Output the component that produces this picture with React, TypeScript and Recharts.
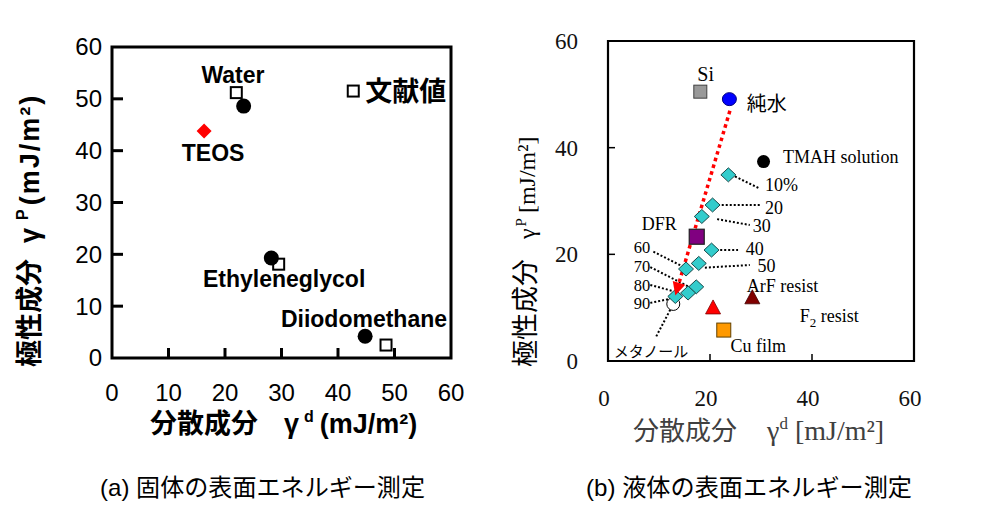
import React from 'react';
import { ScatterChart, Scatter, XAxis, YAxis, ReferenceArea, ReferenceLine } from 'recharts';

const SANS = "'Liberation Sans', 'Noto Sans CJK JP', sans-serif";
const SERIF = "'Liberation Serif', 'Noto Sans CJK JP', serif";
const CJK = "'Noto Sans CJK JP', sans-serif";

// ---------- (a) 固体の表面エネルギー測定 ----------
const A_TICKS = [0, 10, 20, 30, 40, 50, 60];
const A_MEASURED = [
  { x: 23.3, y: 48.6 },
  { x: 28.2, y: 19.3 },
  { x: 44.8, y: 4.2 },
];
const A_LITERATURE = [
  { x: 22.0, y: 51.2 },
  { x: 29.5, y: 18.1 },
  { x: 48.5, y: 2.5 },
];
const A_TEOS = [{ x: 16.3, y: 43.8 }];
const A_LABELS = [
  { x: 21.4, y: 54.6, text: 'Water', anchor: 'middle' },
  { x: 17.9, y: 39.6, text: 'TEOS', anchor: 'middle' },
  { x: 16.1, y: 15.3, text: 'Ethyleneglycol', anchor: 'start' },
  { x: 29.9, y: 7.5, text: 'Diiodomethane', anchor: 'start' },
];
const A_LEGEND = [{ x: 42.7, y: 51.5, text: '文献値' }];

// ---------- (b) 液体の表面エネルギー測定 ----------
const B_TICKS = [0, 20, 40, 60];
const B_SI = [{ x: 18.1, y: 50.5 }];
const B_WATER = [{ x: 23.8, y: 49.1 }];
const B_TMAH = [{ x: 30.5, y: 37.4 }];
const B_MIX = [
  { x: 23.6, y: 34.9 },
  { x: 20.5, y: 29.25 },
  { x: 18.4, y: 27.1 },
  { x: 20.3, y: 20.8 },
  { x: 17.8, y: 18.3 },
  { x: 15.3, y: 17.25 },
  { x: 17.3, y: 13.9 },
  { x: 15.7, y: 12.75 },
  { x: 13.2, y: 12.1 },
];
const B_METHANOL = [{ x: 12.8, y: 10.7 }];
const B_DFR = [{ x: 17.4, y: 23.3 }];
const B_RED_TRI = [{ x: 20.6, y: 9.7 }];
const B_DARK_TRI = [{ x: 28.3, y: 11.6 }];
const B_CU = [{ x: 22.7, y: 5.8 }];
const ARROW_FROM = { x: 23.9, y: 46.9 };
const ARROW_TO = { x: 13.2, y: 12.3 };
const B_LABELS = [
  { x: 19.15, y: 53.9, text: 'Si', anchor: 'middle', kind: 'si' },
  { x: 27.2, y: 48.2, text: '純水', anchor: 'start', kind: 'cjk' },
  { x: 34.3, y: 38.3, text: 'TMAH solution', anchor: 'start', kind: 'lab' },
  { x: 30.8, y: 33.0, text: '10%', anchor: 'start', kind: 'lab' },
  { x: 30.8, y: 28.8, text: '20', anchor: 'start', kind: 'lab' },
  { x: 28.4, y: 25.3, text: '30', anchor: 'start', kind: 'lab' },
  { x: 27.0, y: 21.1, text: '40', anchor: 'start', kind: 'lab' },
  { x: 29.3, y: 17.9, text: '50', anchor: 'start', kind: 'lab' },
  { x: 8.3, y: 21.25, text: '60', anchor: 'end', kind: 'small' },
  { x: 8.3, y: 17.75, text: '70', anchor: 'end', kind: 'small' },
  { x: 8.3, y: 14.3, text: '80', anchor: 'end', kind: 'small' },
  { x: 8.3, y: 10.8, text: '90', anchor: 'end', kind: 'small' },
  { x: 6.64, y: 25.8, text: 'DFR', anchor: 'start', kind: 'lab' },
  { x: 27.2, y: 14.1, text: 'ArF resist', anchor: 'start', kind: 'lab' },
  { x: 37.6, y: 8.5, text: 'F', sub: '2', rest: ' resist', anchor: 'start', kind: 'lab' },
  { x: 24.0, y: 2.8, text: 'Cu film', anchor: 'start', kind: 'lab' },
  { x: 8.43, y: 1.75, text: 'メタノール', anchor: 'middle', kind: 'kana' },
];
const B_LEADERS = [
  [{ x: 24.9, y: 34.6 }, { x: 29.6, y: 32.4 }],
  [{ x: 22.3, y: 29.25 }, { x: 29.8, y: 29.25 }],
  [{ x: 21.4, y: 26.6 }, { x: 27.8, y: 25.5 }],
  [{ x: 22.0, y: 20.8 }, { x: 25.5, y: 20.8 }],
  [{ x: 19.0, y: 17.5 }, { x: 27.8, y: 18.0 }],
  [{ x: 8.9, y: 20.5 }, { x: 14.9, y: 17.6 }],
  [{ x: 8.3, y: 17.6 }, { x: 15.9, y: 13.9 }],
  [{ x: 8.3, y: 14.25 }, { x: 12.8, y: 13.1 }],
  [{ x: 8.3, y: 10.9 }, { x: 12.4, y: 11.7 }],
  [{ x: 12.2, y: 9.6 }, { x: 9.4, y: 4.5 }],
];

// ---------- layout ----------
const A = { left: 0, width: 470, height: 450, plotLeft: 112, plotTop: 47, plotW: 339, plotH: 311 };
const B = { left: 500, width: 496, height: 450, plotLeft: 108, plotTop: 41, plotW: 306, plotH: 320 };
const YAXIS_W = 60;
const XAXIS_H = 40;
const TM = 10;

const marginOf = (c: any) => ({
  top: c.plotTop,
  left: c.plotLeft - YAXIS_W,
  right: c.width - c.plotLeft - c.plotW,
  bottom: c.height - c.plotTop - c.plotH - XAXIS_H,
});

const makeXTick = (cfg: any) => (props: any) => {
  const { x, y, payload } = props;
  const axisY = y - TM;
  const v = payload.value;
  return (
    <g>
      {v > 0 && v < 60 && (
        <line x1={x} x2={x} y1={axisY} y2={axisY - cfg.len} stroke="#000" strokeWidth={cfg.sw} />
      )}
      <text x={x + cfg.dx} y={axisY + cfg.off} dy="0.35em" textAnchor="middle" fontSize={cfg.fs} fontFamily={cfg.ff} fill={cfg.fill}>
        {v}
      </text>
    </g>
  );
};

const makeYTick = (cfg: any) => (props: any) => {
  const { x, y, payload } = props;
  const axisX = x + TM;
  const v = payload.value;
  return (
    <g>
      {v > 0 && v < 60 && (
        <line x1={axisX} x2={axisX + cfg.len} y1={y} y2={y} stroke="#000" strokeWidth={cfg.sw} />
      )}
      <text x={axisX - cfg.off} y={y + cfg.dy} dy="0.35em" textAnchor="end" fontSize={cfg.fs} fontFamily={cfg.ff} fill={cfg.fill}>
        {v}
      </text>
    </g>
  );
};

// ---------- shapes ----------
const dot = (r: number, fill: string, stroke = 'none', sw = 0) => (p: any) => (
  <circle cx={p.cx} cy={p.cy} r={r} fill={fill} stroke={stroke} strokeWidth={sw} />
);
const ellipse = (rx: number, ry: number, fill: string, stroke = 'none', sw = 0) => (p: any) => (
  <ellipse cx={p.cx} cy={p.cy} rx={rx} ry={ry} fill={fill} stroke={stroke} strokeWidth={sw} />
);
const square = (s: number, fill: string, stroke: string, sw: number) => (p: any) => (
  <rect x={p.cx - s / 2} y={p.cy - s / 2} width={s} height={s} fill={fill} stroke={stroke} strokeWidth={sw} />
);
const diamond = (hw: number, hh: number, fill: string, stroke: string, sw: number) => (p: any) => (
  <polygon
    points={`${p.cx},${p.cy - hh} ${p.cx + hw},${p.cy} ${p.cx},${p.cy + hh} ${p.cx - hw},${p.cy}`}
    fill={fill}
    stroke={stroke}
    strokeWidth={sw}
  />
);
const triangle = (w: number, h: number, fill: string, stroke: string, sw: number) => (p: any) => (
  <polygon
    points={`${p.cx},${p.cy - (2 * h) / 3} ${p.cx + w / 2},${p.cy + h / 3} ${p.cx - w / 2},${p.cy + h / 3}`}
    fill={fill}
    stroke={stroke}
    strokeWidth={sw}
  />
);
const arrowHead = (p: any) => {
  const dx = (ARROW_TO.x - ARROW_FROM.x) * (B.plotW / 60);
  const dy = -(ARROW_TO.y - ARROW_FROM.y) * (B.plotH / 60);
  const len = Math.hypot(dx, dy);
  const ux = dx / len;
  const uy = dy / len;
  const L = 13;
  const hw = 6.5;
  const bx = p.cx - ux * L;
  const by = p.cy - uy * L;
  return (
    <polygon
      points={`${p.cx},${p.cy} ${bx - uy * hw},${by + ux * hw} ${bx + uy * hw},${by - ux * hw}`}
      fill="#ff0000"
    />
  );
};

const aLabel = (p: any) => (
  <text x={p.cx} y={p.cy} dy="0.35em" textAnchor={p.payload.anchor} fontSize={23} fontWeight="bold" fontFamily={SANS} fill="#000">
    {p.payload.text}
  </text>
);
const aLegend = (p: any) => (
  <g>
    <rect x={p.cx - 5.5} y={p.cy - 5.5} width={11} height={11} fill="#fff" stroke="#000" strokeWidth={2} />
    <text x={p.cx + 12} y={p.cy} dy="0.35em" fontSize={27} fontWeight="bold" fontFamily={SANS} fill="#000">
      {p.payload.text}
    </text>
  </g>
);
const bLabel = (p: any) => {
  const d = p.payload;
  if (d.kind === 'cjk')
    return (
      <text x={p.cx} y={p.cy} dy="0.35em" textAnchor={d.anchor} fontSize={20} fontFamily={CJK} fill="#000">
        {d.text}
      </text>
    );
  if (d.kind === 'kana')
    return (
      <text x={p.cx} y={p.cy} dy="0.35em" textAnchor={d.anchor} fontSize={15} fontFamily={CJK} fill="#000">
        {d.text}
      </text>
    );
  const fs = d.kind === 'si' ? 20 : d.kind === 'small' ? 16.5 : 18;
  return (
    <text x={p.cx} y={p.cy} dy="0.35em" textAnchor={d.anchor} fontSize={fs} fontFamily={SERIF} fill="#000">
      {d.text}
      {d.sub && (
        <tspan dy={5} fontSize={13}>
          {d.sub}
        </tspan>
      )}
      {d.rest && <tspan dy={-5}>{d.rest}</tspan>}
    </text>
  );
};

const aXTick = makeXTick({ len: 10, sw: 3, dx: 0, off: 35, fs: 24, ff: SANS, fill: '#000' });
const aYTick = makeYTick({ len: 11, sw: 3, off: 10, dy: 0, fs: 24, ff: SANS, fill: '#000' });
const bXTick = makeXTick({ len: 7, sw: 1.5, dx: -4, off: 37, fs: 23, ff: SERIF, fill: '#111' });
const bYTick = makeYTick({ len: 7, sw: 1.5, off: 30, dy: 0, fs: 23, ff: SERIF, fill: '#111' });

function ChartA() {
  return (
    <ScatterChart width={A.width} height={A.height} margin={marginOf(A)}>
      <XAxis type="number" dataKey="x" domain={[0, 60]} ticks={A_TICKS} allowDataOverflow axisLine={false} tickLine={false} tickSize={0} tickMargin={TM} height={XAXIS_H} tick={aXTick} interval={0} />
      <YAxis type="number" dataKey="y" domain={[0, 60]} ticks={A_TICKS} allowDataOverflow axisLine={false} tickLine={false} tickSize={0} tickMargin={TM} width={YAXIS_W} tick={aYTick} interval={0} />
      <ReferenceArea x1={0} x2={60} y1={0} y2={60} fill="none" fillOpacity={0} stroke="#000" strokeWidth={3} strokeOpacity={1} />
      <Scatter data={A_LITERATURE} shape={square(11, '#fff', '#000', 2)} isAnimationActive={false} />
      <Scatter data={A_MEASURED} shape={dot(7.5, '#000')} isAnimationActive={false} />
      <Scatter data={A_TEOS} shape={diamond(7.5, 7.5, '#ff0000', 'none', 0)} isAnimationActive={false} />
      <Scatter data={A_LABELS} shape={aLabel} isAnimationActive={false} />
      <Scatter data={A_LEGEND} shape={aLegend} isAnimationActive={false} />
    </ScatterChart>
  );
}

function ChartB() {
  return (
    <ScatterChart width={B.width} height={B.height} margin={marginOf(B)}>
      <XAxis type="number" dataKey="x" domain={[0, 60]} ticks={B_TICKS} allowDataOverflow axisLine={false} tickLine={false} tickSize={0} tickMargin={TM} height={XAXIS_H} tick={bXTick} interval={0} />
      <YAxis type="number" dataKey="y" domain={[0, 60]} ticks={B_TICKS} allowDataOverflow axisLine={false} tickLine={false} tickSize={0} tickMargin={TM} width={YAXIS_W} tick={bYTick} interval={0} />
      <ReferenceArea x1={0} x2={60} y1={0} y2={60} fill="none" fillOpacity={0} stroke="#000" strokeWidth={2.2} strokeOpacity={1} />
      {B_LEADERS.map((seg, i) => (
        <ReferenceLine key={i} segment={seg} stroke="#000" strokeWidth={2} strokeDasharray="2 2" />
      ))}
      <Scatter data={B_SI} shape={square(13, '#999999', '#404040', 1)} isAnimationActive={false} />
      <Scatter data={B_WATER} shape={ellipse(7, 6.5, '#0000ff', '#000080', 1)} isAnimationActive={false} />
      <Scatter data={B_TMAH} shape={dot(6.5, '#000')} isAnimationActive={false} />
      <Scatter data={B_DFR} shape={square(15, '#800080', '#202020', 1.2)} isAnimationActive={false} />
      <Scatter data={B_METHANOL} shape={dot(6.5, '#fff', '#000', 1)} isAnimationActive={false} />
      <Scatter data={B_MIX} shape={diamond(7.5, 7, '#33cccc', '#1a4a4a', 1)} isAnimationActive={false} />
      <Scatter data={B_RED_TRI} shape={triangle(15, 14, '#ff0000', '#800000', 0.8)} isAnimationActive={false} />
      <Scatter data={B_DARK_TRI} shape={triangle(15, 14, '#800000', '#400000', 0.8)} isAnimationActive={false} />
      <Scatter data={B_CU} shape={square(14, '#ff9900', '#604000', 1)} isAnimationActive={false} />
      <ReferenceLine segment={[ARROW_FROM, ARROW_TO]} stroke="#ff0000" strokeWidth={3.5} strokeDasharray="3.5 3.5" />
      <Scatter data={[ARROW_TO]} shape={arrowHead} isAnimationActive={false} />
      <Scatter data={B_LABELS} shape={bLabel} isAnimationActive={false} />
    </ScatterChart>
  );
}

function Overlay() {
  return (
    <svg width={996} height={513} style={{ position: 'absolute', left: 0, top: 0, pointerEvents: 'none' }}>
      {/* (a) x title */}
      <text x={150} y={433} fontSize={27} fontWeight="bold" fontFamily={SANS} fill="#000">
        <tspan>{'分散成分'}</tspan>
        <tspan dx={26}>{'γ'}</tspan>
        <tspan dx={5} dy={-11} fontSize={16}>{'d'}</tspan>
        <tspan dx={6} dy={11}>{'(mJ/m²)'}</tspan>
      </text>
      {/* (a) y title */}
      <text transform="translate(39,367) rotate(-90)" fontSize={27} fontWeight="bold" fontFamily={SANS} fill="#000">
        <tspan>{'極性成分'}</tspan>
        <tspan dx={16}>{'γ'}</tspan>
        <tspan dx={8} dy={-11} fontSize={16}>{'P'}</tspan>
        <tspan dx={4} dy={11} letterSpacing={2}>{'(mJ/m²)'}</tspan>
      </text>
      {/* (b) x title */}
      <text x={633} y={440} fontSize={26} fontFamily={CJK} fill="#404040">
        <tspan>{'分散成分'}</tspan>
        <tspan dx={30} fontFamily={SERIF} fontSize={28}>{'γ'}</tspan>
        <tspan fontFamily={SERIF} fontSize={17} dy={-11}>{'d'}</tspan>
        <tspan fontFamily={SERIF} fontSize={28} dy={11}>{' [mJ/m²]'}</tspan>
      </text>
      {/* (b) y title */}
      <text transform="translate(535,367) rotate(-90)" fontSize={27} fontFamily={CJK} fill="#000">
        <tspan>{'極性成分'}</tspan>
        <tspan dx={20} fontFamily={SERIF} fontSize={24}>{'γ'}</tspan>
        <tspan dx={2} fontFamily={SERIF} fontSize={15} dy={-9}>{'P'}</tspan>
        <tspan dx={5} fontFamily={SERIF} fontSize={24} dy={9}>{'[mJ/m²]'}</tspan>
      </text>
      {/* captions */}
      <text x={100} y={496} fontSize={24} fontFamily={SANS} fill="#000" textLength={325} lengthAdjust="spacingAndGlyphs">
        {'(a) 固体の表面エネルギー測定'}
      </text>
      <text x={586} y={496} fontSize={24} fontFamily={SANS} fill="#000" textLength={326} lengthAdjust="spacingAndGlyphs">
        {'(b) 液体の表面エネルギー測定'}
      </text>
    </svg>
  );
}

export default function App() {
  return (
    <div style={{ position: 'absolute', left: 0, top: 0, width: 996, height: 513, background: '#fff', overflow: 'hidden' }}>
      <div style={{ position: 'absolute', left: A.left, top: 0 }}>
        <ChartA />
      </div>
      <div style={{ position: 'absolute', left: B.left, top: 0 }}>
        <ChartB />
      </div>
      <Overlay />
    </div>
  );
}
